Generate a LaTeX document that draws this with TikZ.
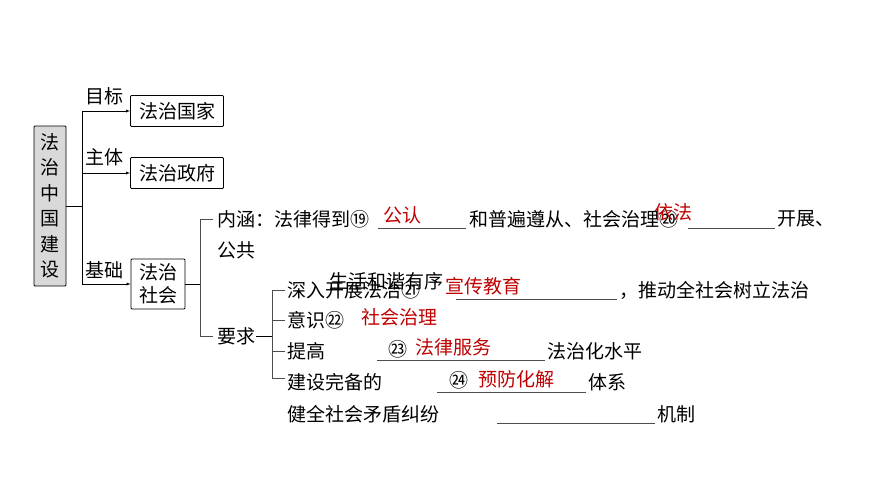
\documentclass[tikz,border=0pt]{standalone}
\usepackage{fontspec}
\setmainfont{Noto Sans CJK SC}
\usetikzlibrary{positioning}

\begin{document}
\begin{tikzpicture}[
                x=1pt,y=-1pt,
                every node/.append style={font=\fontsize{19}{22}\selectfont,inner sep=1pt},
                topic/.style={draw,thick,rounded corners=1pt,inner sep=3pt},
                txt/.style={anchor=west},
                ans/.style={anchor=west,text=red!75!black},
                blank/.style={line width=0.6pt,gray!60!black}
            ]
                \useasboundingbox (0,0) rectangle (870,490);
                % left column
                \node (root) [topic,fill=gray!30,minimum width=32,minimum height=160,align=center,font=\fontsize{19}{25.5}\selectfont] at (50,206) {法\\治\\中\\国\\建\\设};
                \node (goal) [topic,minimum width=93,minimum height=31] at (177,111) {法治国家};
                \node (gov)  [topic,minimum width=93,minimum height=31] at (177,173) {法治政府};
                \node (soc)  [topic,minimum width=54,minimum height=50,align=center,font=\fontsize{19}{23}\selectfont] at (158,284) {法治\\社会};
                \coordinate (fork) at (82,206);
                \draw (root.east) -- (fork);
                \draw (82,111) -- (82,284);
                \draw[-latex] (82,111) -- (goal.west);
                \draw[-latex] (82,173) -- (gov.west);
                \draw[-latex] (82,284) -- (soc.west);
                \node (lgoal) [txt] at (84,96)  {目标};
                \node (lgov)  [txt] at (84,157) {主体};
                \node (lsoc)  [txt] at (84,270) {基础};
                % 法治社会 branch
                \draw (soc.east) -- (200,284);
                \draw[gray!60!black] (213,219) -- (200,219) -- (200,336) -- (213,336);
                \node (nh) [txt] at (216,219) {内涵：法律得到⑲};
                \draw[blank] (378,228) -- (466,228);
                \node (nh2) [txt] at (468,219) {和普遍遵从、社会治理⑳};
                \draw[blank] (688,228) -- (775,228);
                \node (nh3) [txt] at (776,219) {开展、};
                \node (nh4) [txt] at (216,250) {公共};
                \node (a19) [ans] at (382,215) {公认};
                \node (a20) [ans] at (653,212) {依法};
                \node (yq) [txt] at (216,336) {要求};
                \draw (yq.east) -- (272,336);
                \draw[gray!60!black] (285,290) -- (272,290) -- (272,378) -- (285,378);
                \foreach \y in {320,351} \draw[gray!60!black] (272,\y) -- (285,\y);
                % requirements
                \node (r1) [txt] at (286,290) {深入开展法治㉑};
                \node (r1b) [txt] at (328,281) {生活和谐有序};
                \node (a21) [ans] at (444,286) {宣传教育};
                \draw[blank] (456,299) -- (617,299);
                \node (r1c) [txt] at (618,290) {，推动全社会树立法治};
                \node (r2) [txt] at (286,320) {意识㉒};
                \node (a22) [ans] at (360,317) {社会治理};
                \node (r3) [txt] at (286,351) {提高};
                \node (n23) [txt] at (387,349) {㉓};
                \node (a23) [ans] at (414,347) {法律服务};
                \draw[blank] (377,360) -- (545,360);
                \node (r3b) [txt] at (546,351) {法治化水平};
                \node (r4) [txt] at (286,382) {建设完备的};
                \node (n24) [txt] at (448,380) {㉔};
                \node (a24) [ans] at (477,379) {预防化解};
                \draw[blank] (437,392) -- (586,392);
                \node (r4b) [txt] at (587,382) {体系};
                \node (r5) [txt] at (286,414) {健全社会矛盾纠纷};
                \draw[blank] (497,423) -- (655,423);
                \node (r5b) [txt] at (656,414) {机制};
            \end{tikzpicture}
\end{document}
